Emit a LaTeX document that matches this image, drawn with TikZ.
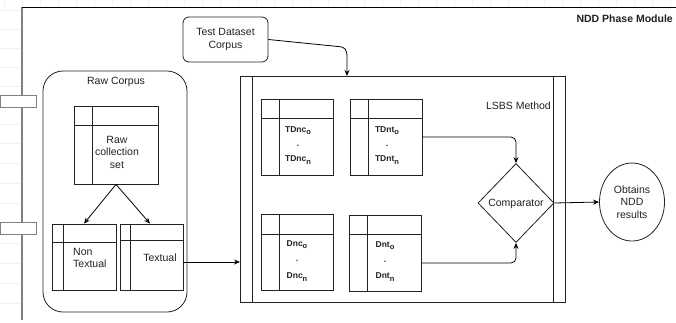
\documentclass[tikz,border=0pt]{standalone}
\usepackage{fontspec}
\setmainfont{Liberation Sans}
\usetikzlibrary{arrows.meta,shapes.geometric,calc}
\definecolor{linec}{HTML}{222222}
\definecolor{framec}{HTML}{808080}
\definecolor{gridc}{HTML}{F0F0F0}
\newcommand{\mysub}[1]{{\fontsize{7.5}{8}\selectfont\raisebox{-2.2pt}{#1}}}
\begin{document}
\begin{tikzpicture}[x=1pt,y=-1pt,
  every node/.style={font=\fontsize{10.5}{12.5}\selectfont, text=linec},
  box/.style={draw=linec, line width=0.8pt, inner sep=0pt, fill=white},
  inl/.style={draw=linec, line width=0.8pt},
  txt/.style={align=center, inner sep=0pt},
  sub/.style={font=\fontsize{8.5}{10}\selectfont\bfseries, inner sep=0pt},
  arr/.style={draw=black, line width=0.8pt, -{Stealth[length=6pt,width=5pt]}},
  port/.style={draw=framec, line width=1pt, fill=white, inner sep=0pt, minimum width=36pt, minimum height=12pt}
]
\useasboundingbox (0,0) rectangle (676,322);
\fill[white] (0,0) rectangle (676,322);
% faint grid in margins
\foreach \yy in {10,29,48,67,86,105,124,143,163,183,203,223,243,263,283,303}
  \draw[gridc, line width=0.5pt] (0,\yy) -- (21,\yy);
\foreach \xx in {4,22,40,58,76,94,112,130,148,166,184,202,220,238,256,274,292,310,328,346,364,382,400,418,436,454,472,490,508,526,544,562,580,598,616,634,652,670}
  \draw[gridc, line width=0.5pt] (\xx,0) -- (\xx,6);

% module frame
\draw[framec, line width=1.3pt] (22,320) -- (22,7);
\draw[black, line width=1pt] (22,7) -- (676,7);
\node[port] (p1) at (18,101) {};
\node[port] (p2) at (18,228) {};
\node[font=\fontsize{10.5}{12.5}\selectfont\bfseries, anchor=east, inner sep=0pt] (ndd) at (673,19) {NDD Phase Module};

% test dataset corpus
\node[draw=linec, line width=0.8pt, rounded corners=6pt, minimum width=85pt, minimum height=45pt, txt] (test) at (225.5,39.5) {Test Dataset\\Corpus};

% raw corpus container
\node[draw=linec, line width=0.8pt, rounded corners=20pt, minimum width=144pt, minimum height=241pt, inner sep=0pt] (rc) at (115,191.5) {};
\node[txt] (rclab) at (116,82) {Raw Corpus};

% raw collection set table
\node[box, minimum width=84pt, minimum height=78pt] (raw) at (116,145) {};
\draw[inl] (74,125) -- (158,125);
\draw[inl] (92,106) -- (92,184);
\node[txt] (rawt) at (117,152) {Raw\\collection\\set};

% non textual
\node[box, minimum width=64pt, minimum height=66pt] (nont) at (84,257) {};
\draw[inl] (52,242) -- (116,242);
\draw[inl] (63,224) -- (63,290);
\node[align=left, inner sep=0pt, anchor=west] (nontt) at (73,258) {Non\\Textual};

% textual
\node[box, minimum width=63pt, minimum height=66pt] (text) at (151.5,257) {};
\draw[inl] (120,240) -- (183,240);
\draw[inl] (130,224) -- (130,290);
\node[txt] (textt) at (160,258) {Textual};

\draw[arr] (raw.south) -- (nont.north);
\draw[arr] (raw.south) -- ($(text.north)+(-1.5,0)$);

% LSBS method
\node[box, fill=none, minimum width=325pt, minimum height=226pt] (lsbs) at (402.5,189) {};
\draw[inl] (252,76) -- (252,302);
\draw[inl] (553,76) -- (553,302);
\node[anchor=east, inner sep=0pt] (lsbslab) at (551,106) {LSBS Method};

\coordinate (tin) at (240,262);
\draw[arr] (text.east |- tin) -- (tin);

\coordinate (tdin) at (347,76);
\draw[arr] (test.east) -- (338,46.5) .. controls (346,47) and (347,50) .. (347,58) -- (tdin);

% TDnc
\node[box, minimum width=72pt, minimum height=76pt] (tdnc) at (297,137) {};
\draw[inl] (261,118) -- (333,118);
\draw[inl] (279,99) -- (279,175);
\node[sub] (tdnc0) at (298,131) {TDnc\mysub{o}};
\node[sub] (tdncd) at (298,146) {.};
\node[sub] (tdncn) at (298,160) {TDnc\mysub{n}};

% TDnt
\node[box, minimum width=72pt, minimum height=76pt] (tdnt) at (386,137) {};
\draw[inl] (350,118) -- (422,118);
\draw[inl] (368,99) -- (368,175);
\node[sub] (tdnt0) at (387,131) {TDnt\mysub{o}};
\node[sub] (tdntd) at (387,146) {.};
\node[sub] (tdntn) at (387,160) {TDnt\mysub{n}};

% Dnc
\node[box, minimum width=72pt, minimum height=76pt] (dnc) at (297,252) {};
\draw[inl] (261,234) -- (333,234);
\draw[inl] (279,214) -- (279,290);
\node[sub] (dnc0) at (297,245) {Dnc\mysub{o}};
\node[sub] (dncd) at (297,261) {.};
\node[sub] (dncn) at (297,277) {Dnc\mysub{n}};

% Dnt
\node[box, minimum width=72pt, minimum height=76pt] (dnt) at (385,253) {};
\draw[inl] (349,234) -- (421,234);
\draw[inl] (367,215) -- (367,291);
\node[sub] (dnt0) at (385,246) {Dnt\mysub{o}};
\node[sub] (dntd) at (385,262) {.};
\node[sub] (dntn) at (385,277) {Dnt\mysub{n}};

% comparator
\node[diamond, draw=linec, line width=0.8pt, inner sep=0pt, minimum width=76pt, minimum height=79pt] (cmp) at (516,203) {};
\node[txt] (cmpt) at (516,204) {Comparator};

\draw[arr, rounded corners=5pt] (tdnt.east) -| (cmp.north);
\coordinate (dntout) at (421,263);
\draw[arr, rounded corners=5pt] (dntout) -| (cmp.south);

% result
\node[ellipse, draw=linec, line width=0.8pt, minimum width=65pt, minimum height=78pt, inner sep=0pt, txt] (res) at (632,202) {Obtains\\NDD\\results};
\draw[arr] (cmp.east) -- (res.west);
\end{tikzpicture}
\end{document}
